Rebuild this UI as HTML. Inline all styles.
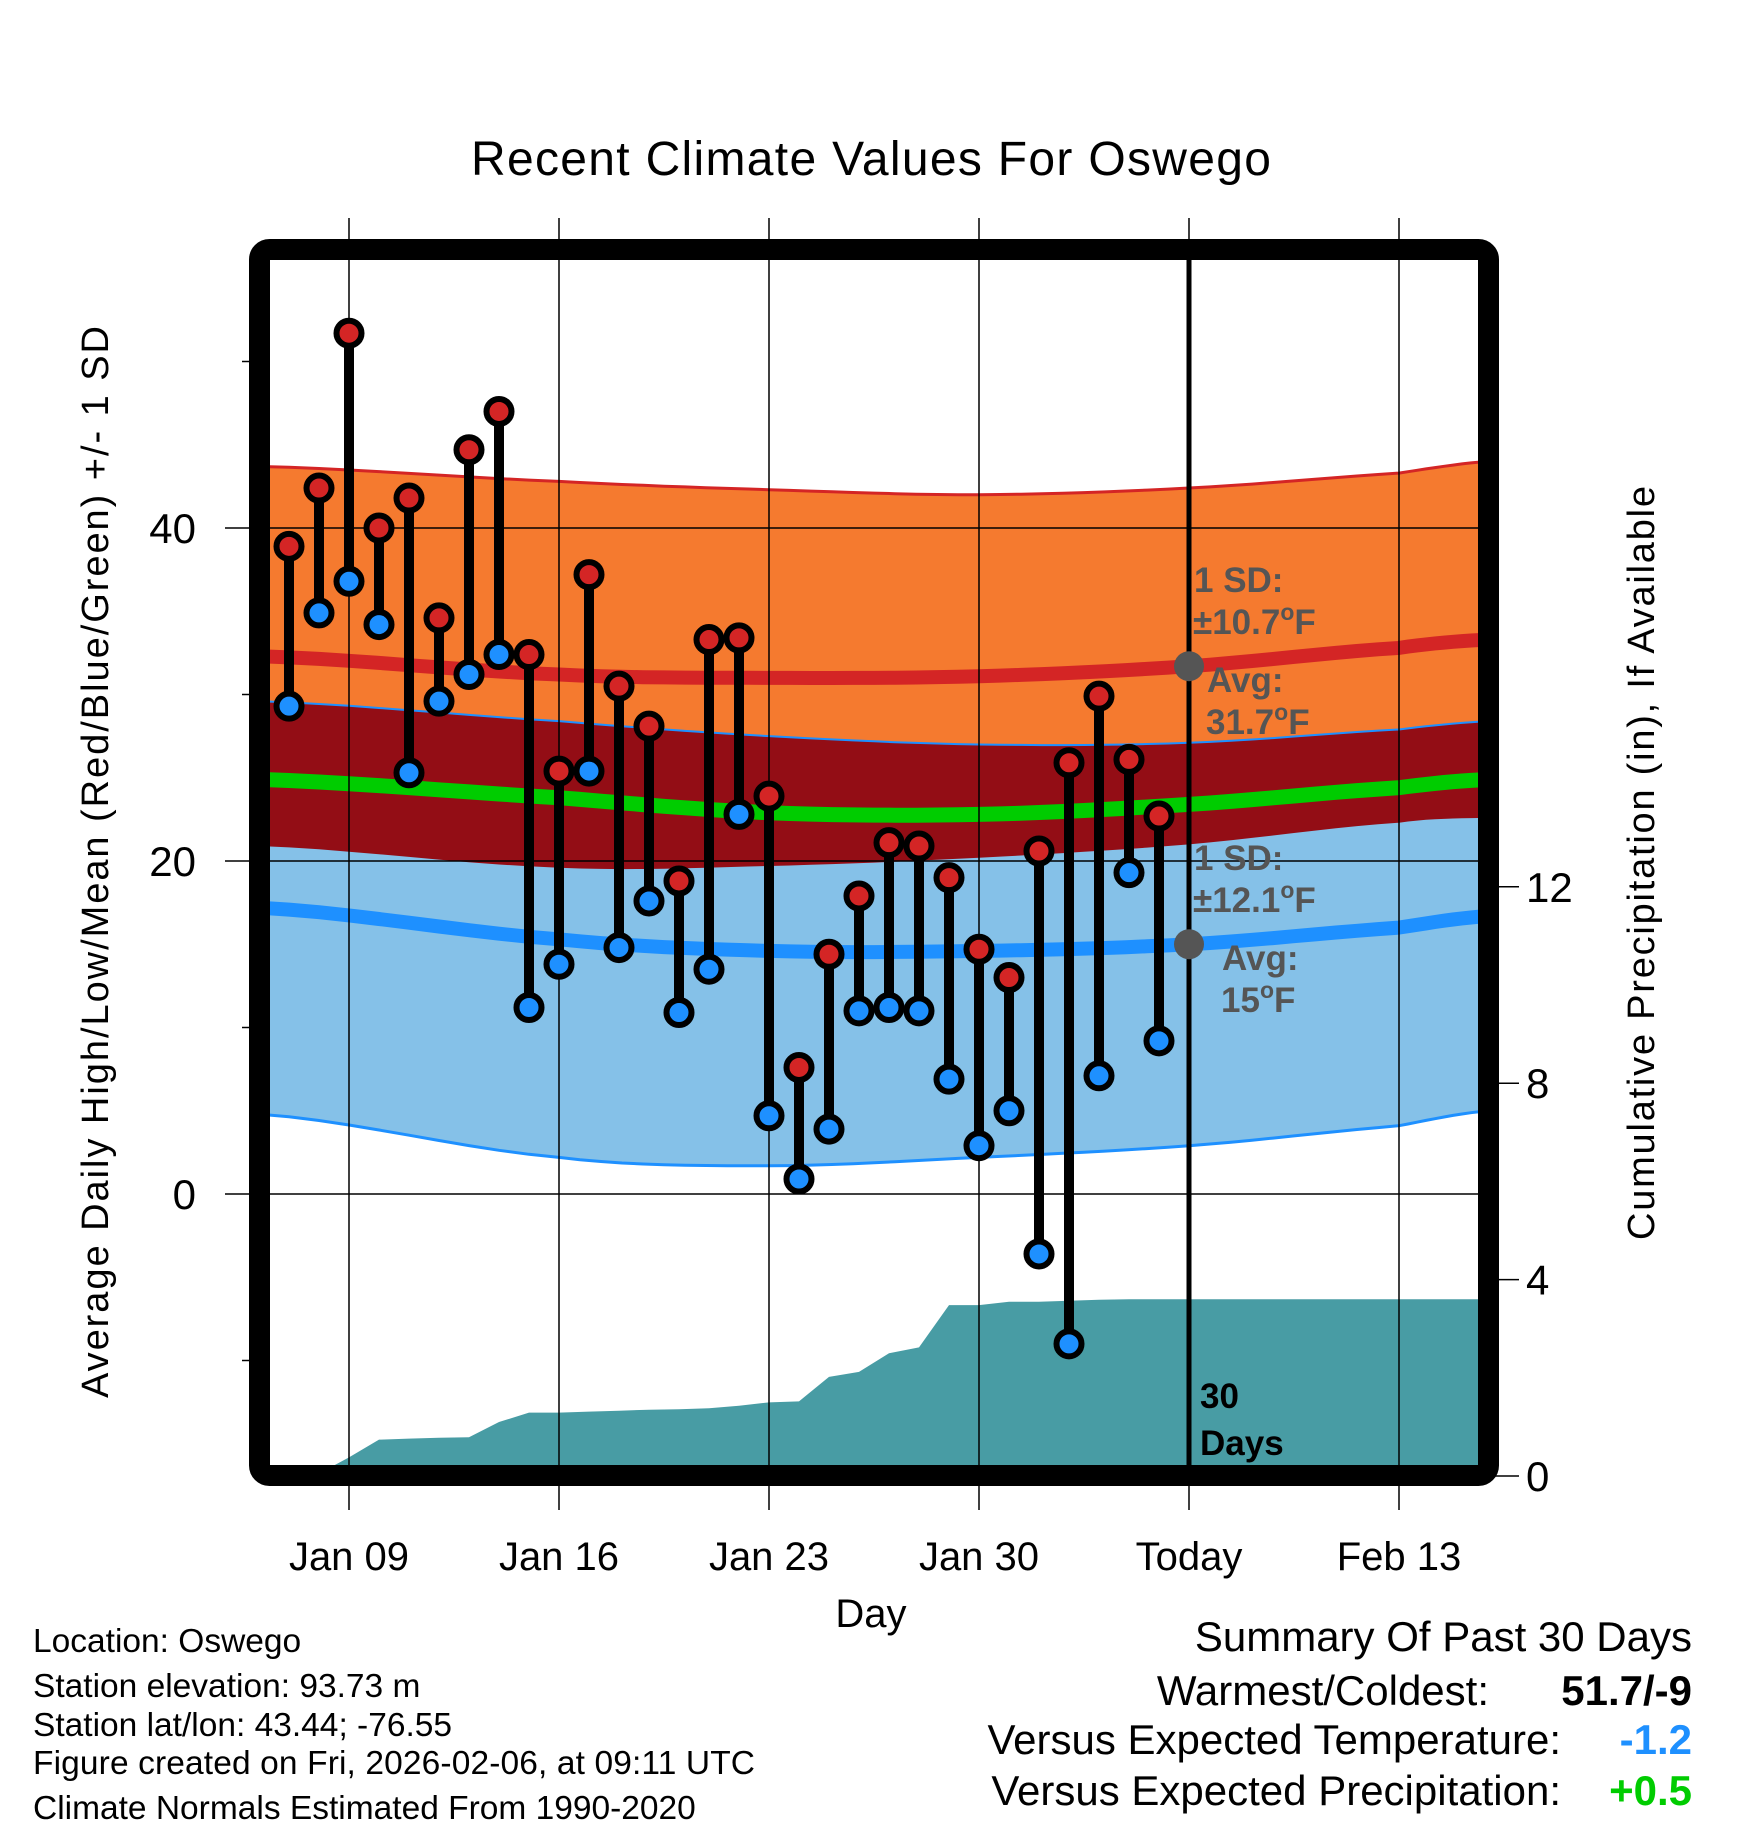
<!DOCTYPE html>
<html><head><meta charset="utf-8"><style>
html,body{margin:0;padding:0;background:#fff}
svg{display:block;font-family:"Liberation Sans",Arial,sans-serif}
</style></head><body>
<svg id="chart" width="1748" height="1828" viewBox="0 0 1748 1828" xmlns="http://www.w3.org/2000/svg">
<defs><clipPath id="plotclip"><rect x="270" y="260" width="1208" height="1206"/></clipPath></defs>
<g id="fills" clip-path="url(#plotclip)"></g>
<g id="grid"></g>
<g id="marks"></g>
<rect x="259.5" y="249.5" width="1229" height="1226" rx="10" fill="none" stroke="#000" stroke-width="21"/>
<text x="871" y="175" font-size="48" text-anchor="middle" textLength="800">Recent Climate Values For Oswego</text>
<text x="871" y="1627" font-size="40" text-anchor="middle">Day</text>
<text transform="translate(108,862) rotate(-90)" font-size="38" text-anchor="middle" textLength="1072">Average Daily High/Low/Mean (Red/Blue/Green) +/- 1 SD</text>
<text transform="translate(1654,863) rotate(-90)" font-size="38" text-anchor="middle" textLength="754">Cumulative Precipitation (in), If Available</text>
<g font-size="35" font-weight="bold" fill="#555">
<text x="1194" y="592">1 SD:</text>
<text x="1193" y="634">±10.7<tspan dy="-14" font-size="23">o</tspan><tspan dy="14">F</tspan></text>
<text x="1207" y="692">Avg:</text>
<text x="1206" y="734">31.7<tspan dy="-14" font-size="23">o</tspan><tspan dy="14">F</tspan></text>
<text x="1194" y="870">1 SD:</text>
<text x="1193" y="912">±12.1<tspan dy="-14" font-size="23">o</tspan><tspan dy="14">F</tspan></text>
<text x="1222" y="970">Avg:</text>
<text x="1221" y="1012">15<tspan dy="-14" font-size="23">o</tspan><tspan dy="14">F</tspan></text>
</g>
<g font-size="35" font-weight="bold" fill="#000">
<text x="1200" y="1408">30</text>
<text x="1200" y="1455">Days</text>
</g>
<g font-size="33.5" fill="#000">
<text x="33" y="1652">Location: Oswego</text>
<text x="33" y="1697">Station elevation: 93.73 m</text>
<text x="33" y="1736">Station lat/lon: 43.44; -76.55</text>
<text x="33" y="1774" textLength="722">Figure created on Fri, 2026-02-06, at 09:11 UTC</text>
<text x="33" y="1819">Climate Normals Estimated From 1990-2020</text>
</g>
<g font-size="42" text-anchor="end">
<text x="1692" y="1651">Summary Of Past 30 Days</text>
<text x="1489" y="1705">Warmest/Coldest:</text>
<text x="1692" y="1705" font-weight="bold">51.7/-9</text>
<text x="1561" y="1754">Versus Expected Temperature:</text>
<text x="1692" y="1754" font-weight="bold" fill="#1e90ff">-1.2</text>
<text x="1561" y="1805">Versus Expected Precipitation:</text>
<text x="1692" y="1805" font-weight="bold" fill="#00cc00">+0.5</text>
</g>
</svg>
<script>
// Days offset from Jan 09
const days = [-2,-1,0,1,2,3,4,5,6,7,8,9,10,11,12,13,14,15,16,17,18,19,20,21,22,23,24,25,26,27];
const highs = [38.9,42.4,51.7,40.0,41.8,34.6,44.7,47.0,32.4,25.4,37.2,30.5,28.1,18.8,33.3,33.4,23.9,7.6,14.4,17.9,21.1,20.9,19.0,14.7,13.0,20.6,25.9,29.9,26.1,22.7];
const lows = [29.3,34.9,36.8,34.2,25.3,29.6,31.2,32.4,11.2,13.8,25.4,14.8,17.6,10.9,13.5,22.8,4.7,0.9,3.9,11.0,11.2,11.0,6.9,2.9,5.0,-3.6,-9.0,7.1,19.3,9.2];
const precip = [0,0.05,0.38,0.74,0.76,0.78,0.79,1.1,1.29,1.29,1.31,1.33,1.35,1.36,1.38,1.43,1.5,1.52,2.02,2.12,2.5,2.62,3.48,3.48,3.55,3.55,3.57,3.59,3.6,3.6];
const normDays = [-3,7,14,21,28,35,38];
const highMean = [32.3,31.2,31.0,31.1,31.7,32.8,33.3];
const highSD = [11.4,11.6,11.3,10.9,10.7,10.5,10.7];
const lowMean = [17.2,15.3,14.6,14.6,15.0,16.0,16.7];
const lowSD = [12.4,13.1,12.9,12.4,12.1,11.9,11.7];
const avgMean = [24.9,23.8,22.9,22.8,23.4,24.4,24.9];
const xTickDays = [0,7,14,21,28,35];
const xTickLabels = ["Jan 09","Jan 16","Jan 23","Jan 30","Today","Feb 13"];
const yMajor = [0,20,40];
const yMinor = [-10,10,30,50];
const precipTicks = [0,4,8,12];
const todayDay = 28;

const NS = "http://www.w3.org/2000/svg";
const X = d => 349 + d * 30;
const Y = t => 1194 - t * 16.65;
const P = p => 1476 - p * 49.1;
function mk(tag, attrs, parent){const e=document.createElementNS(NS,tag);for(const k in attrs)e.setAttribute(k,attrs[k]);parent.appendChild(e);return e;}
const fills=document.getElementById('fills'),grid=document.getElementById('grid'),marks=document.getElementById('marks'),svg=document.getElementById('chart');

// smooth (catmull-rom) sampled points
function smooth(vals){
  const pts=[];const n=normDays.length;
  for(let i=0;i<n-1;i++){
    const p0=vals[Math.max(i-1,0)],p1=vals[i],p2=vals[i+1],p3=vals[Math.min(i+2,n-1)];
    const x1=normDays[i],x2=normDays[i+1];
    for(let s=0;s<10;s++){
      const t=s/10,t2=t*t,t3=t2*t;
      const v=0.5*((2*p1)+(-p0+p2)*t+(2*p0-5*p1+4*p2-p3)*t2+(-p0+3*p1-3*p2+p3)*t3);
      pts.push([X(x1+(x2-x1)*t),Y(v)]);
    }
  }
  pts.push([X(normDays[n-1]),Y(vals[n-1])]);
  return pts;
}
function band(upper, lower){
  const u=smooth(upper),l=smooth(lower).reverse();
  return 'M'+u.concat(l).map(p=>p[0].toFixed(1)+','+p[1].toFixed(1)).join('L')+'Z';
}
function line(vals){return 'M'+smooth(vals).map(p=>p[0].toFixed(1)+','+p[1].toFixed(1)).join('L');}
const hTop=highMean.map((m,i)=>m+highSD[i]), hBot=highMean.map((m,i)=>m-highSD[i]);
const lTop=lowMean.map((m,i)=>m+lowSD[i]), lBot=lowMean.map((m,i)=>m-lowSD[i]);

const ob=mk('path',{d:band(hTop,hBot),fill:'#f57a2f'},fills);


const lb=mk('path',{d:band(lTop,lBot),fill:'#85c1e8'},fills);


const ovTop=lTop.map((v,i)=>Math.min(v,hTop[i])), ovBot=hBot.map((v,i)=>Math.max(v,lBot[i]));
const ov=mk('path',{d:band(ovTop,ovBot),fill:'#930d15'},fills);


const l1=mk('path',{d:line(hTop),fill:'none',stroke:'#d42525','stroke-width':3},fills);


const l2=mk('path',{d:line(lBot),fill:'none',stroke:'#1e90ff','stroke-width':3},fills);


const l3=mk('path',{d:line(lTop),fill:'none',stroke:'#1e90ff','stroke-width':2},fills);


const l4=mk('path',{d:line(highMean),fill:'none',stroke:'#d42525','stroke-width':14},fills);


const l5=mk('path',{d:line(avgMean),fill:'none',stroke:'#00cc00','stroke-width':15},fills);


const l6=mk('path',{d:line(lowMean),fill:'none',stroke:'#1e90ff','stroke-width':14},fills);



// precipitation
let pd='M270,'+P(0)+'L270,'+P(precip[0]);
days.forEach((d,i)=>{pd+='L'+X(d)+','+P(precip[i]);});
pd+='L1478,'+P(precip[precip.length-1])+'L1478,'+P(0)+'Z';
const pp=mk('path',{d:pd,fill:'#489ca4'},fills);



// grid
xTickDays.forEach((d,i)=>{
  const g=mk('line',{x1:X(d),x2:X(d),y1:218,y2:1510,stroke:'#000','stroke-width':1.5},grid);
  
  
  const t=mk('text',{x:X(d),y:1570,'font-size':40,'text-anchor':'middle'},svg);
  t.textContent=xTickLabels[i];
  
  
});
yMajor.forEach(v=>{
  const g=mk('line',{x1:225,x2:1478,y1:Y(v),y2:Y(v),stroke:'#000','stroke-width':1.5},grid);
  
  
  const t=mk('text',{x:196,y:Y(v)+15,'font-size':42,'text-anchor':'end'},svg);
  t.textContent=String(v);
  
  
});
yMinor.forEach(v=>{
  const g=mk('line',{x1:242,x2:252,y1:Y(v),y2:Y(v),stroke:'#000','stroke-width':1.5},grid);
  
  
});
precipTicks.forEach(v=>{
  const g=mk('line',{x1:1495,x2:1519,y1:P(v),y2:P(v),stroke:'#000','stroke-width':1.5},grid);
  
  
  const t=mk('text',{x:1526,y:P(v)+15,'font-size':42},svg);
  t.textContent=String(v);
  
  
});
const tl=mk('line',{x1:X(todayDay),x2:X(todayDay),y1:260,y2:1466,stroke:'#000','stroke-width':5},grid);


const d1=mk('circle',{cx:X(todayDay),cy:Y(highMean[4]),r:15,fill:'#555'},grid);


const d2=mk('circle',{cx:X(todayDay),cy:Y(lowMean[4]),r:15,fill:'#555'},grid);



// stems and points
days.forEach((d,i)=>{
  const s=mk('line',{x1:X(d),x2:X(d),y1:Y(highs[i]),y2:Y(lows[i]),stroke:'#000','stroke-width':10},marks);
  
  
});
days.forEach((d,i)=>{
  const h=mk('circle',{cx:X(d),cy:Y(highs[i]),r:12.5,fill:'#d42525',stroke:'#000','stroke-width':6},marks);
  
  
  const l=mk('circle',{cx:X(d),cy:Y(lows[i]),r:12.5,fill:'#1e90ff',stroke:'#000','stroke-width':6},marks);
  
  
});
</script>
</body></html>
